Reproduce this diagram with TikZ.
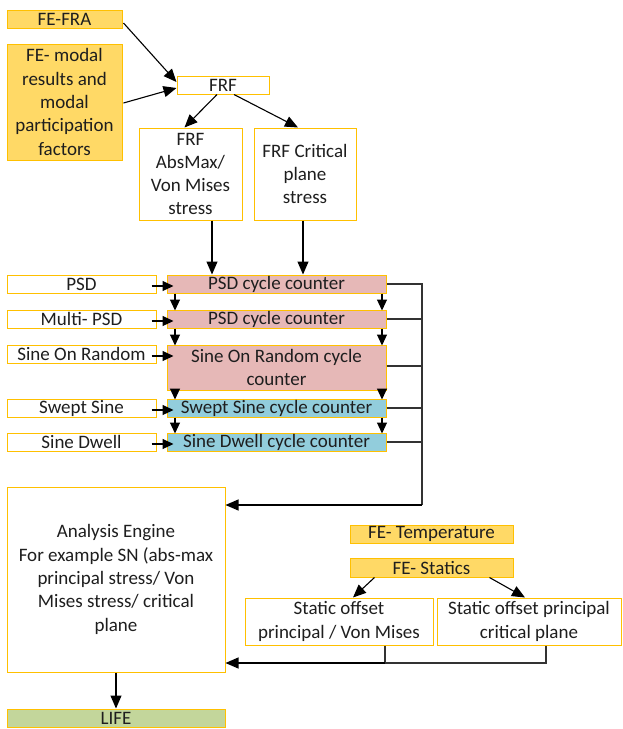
\documentclass[tikz,border=0pt]{standalone}
\usepackage{fontspec}
\setmainfont{Carlito}
\usetikzlibrary{arrows.meta,calc}
\definecolor{gold}{HTML}{FFC000}
\definecolor{lgold}{HTML}{FFD966}
\definecolor{pinkc}{HTML}{E6B8B7}
\definecolor{bluec}{HTML}{92CDDC}
\definecolor{greenc}{HTML}{C3D69B}
\definecolor{txt}{HTML}{1E1E1E}
\tikzset{
  bx/.style={draw=gold, line width=1pt, fill=white, inner sep=0pt, align=center, text=txt,
    font=\fontsize{19}{23.3}\selectfont},
  orange/.style={bx, fill=lgold},
  pinkbox/.style={bx, fill=pinkc},
  bluebox/.style={bx, fill=bluec},
  greenbox/.style={bx, fill=greenc},
  arr/.style={draw=black, line width=1.1pt, -{Triangle[length=13pt,width=11pt]}},
  sarr/.style={draw=black, line width=1.1pt, -{Triangle[length=11pt,width=10pt]}},
  ln/.style={draw=black!80, line width=1.1pt},
  sz/.style n args={2}{minimum width=#1pt, minimum height=#2pt},
}
\begin{document}
\begin{tikzpicture}[x=1pt,y=-1pt]
\useasboundingbox (0,0) rectangle (622,729);
% top
\node[orange, sz={115}{18}] (fra) at (64.5,19) {FE-FRA};
\node[orange, sz={115}{116}] (modal) at (64.5,102) {FE- modal\\results and\\modal\\participation\\factors};
\node[bx, sz={92}{18}] (frf) at (223,85) {FRF};
\node[bx, sz={103}{92}] (absmax) at (190.5,174) {FRF\\AbsMax/\\Von Mises\\stress};
\node[bx, sz={102}{92}] (crit) at (305,174) {FRF Critical\\plane\\stress};
% inputs
\node[bx, sz={149}{18}] (psd) at (81.5,284) {PSD};
\node[bx, sz={149}{18}] (mpsd) at (81.5,319) {Multi- PSD};
\node[bx, sz={149}{18}] (sor) at (81.5,354) {Sine On Random};
\node[bx, sz={149}{18}] (swept) at (81.5,408) {Swept Sine};
\node[bx, sz={149}{18}] (dwell) at (81.5,442) {Sine Dwell};
% counters
\node[pinkbox, sz={219}{18}] (psdc) at (276.5,284) {PSD cycle counter};
\node[pinkbox, sz={219}{18}] (mpsdc) at (276.5,319) {PSD cycle counter};
\node[pinkbox, sz={219}{45}] (sorc) at (276.5,367.5) {Sine On Random cycle\\counter};
\node[bluebox, sz={219}{18}] (sweptc) at (276.5,408) {Swept Sine cycle counter};
\node[bluebox, sz={219}{18}] (dwellc) at (276.5,442) {Sine Dwell cycle counter};
% engine
\node[bx, sz={218}{185}] (engine) at (116,579.5) {Analysis Engine\\For example SN (abs-max\\principal stress/ Von\\Mises stress/ critical\\plane};
\node[greenbox, sz={218}{18}] (life) at (116,718) {LIFE};
% statics
\node[orange, sz={163}{18}] (temp) at (431.5,534) {FE- Temperature};
\node[orange, sz={163}{19}] (statics) at (431.5,567.5) {FE- Statics};
\node[bx, sz={188}{47}] (sop) at (339,621.5) {Static offset\\principal / Von Mises};
\node[bx, sz={184}{47}] (sopc) at (529,621.5) {Static offset principal\\critical plane};
% coordinates
\coordinate (bus) at (422,505);
\coordinate (sbus) at (385,663);

% top arrows
\draw[arr] ($(fra.east)+(1,4)$) -- ($(frf.west)+(0,-3)$);
\draw[arr] ($(modal.east)+(1,1)$) -- ($(frf.west)+(0,3)$);
\draw[arr] ($(frf.south)+(-6,0)$) -- ($(absmax.north)+(-6,0)$);
\draw[arr] ($(frf.south)+(11,0)$) -- ($(crit.north)+(-7,0)$);
\draw[arr] (absmax.south -| 212,0) -- (psdc.north -| 212,0);
\draw[arr] (crit.south -| 303,0) -- (psdc.north -| 303,0);
% input arrows
\foreach \a/\b in {psd/psdc, mpsd/mpsdc, sor/sorc, swept/sweptc, dwell/dwellc}{
  \draw[sarr] ($(\a.east)+(-5,2)$) -- ($(\b.west |- \a.east)+(7,2)$);
}
% vertical arrows between counters
\foreach \a/\b in {psdc/mpsdc, mpsdc/sorc, sorc/sweptc, sweptc/dwellc}{
  \draw[sarr] (\a.south -| 175,0) -- ($(\b.north -| 175,0)+(0,1)$);
  \draw[sarr] (\a.south -| 382,0) -- ($(\b.north -| 382,0)+(0,1)$);
}
% bus
\draw[ln] (psdc.east) -- (psdc.east -| bus) -- (bus);
\foreach \a in {mpsdc, sweptc, dwellc}{
  \draw[ln] (\a.east) -- (\a.east -| bus);
}
\draw[ln] ($(sorc.east)+(0,-1.5)$) -- ($(sorc.east -| bus)+(0,-1.5)$);
\draw[arr] (bus) -- (bus -| engine.east);
% statics
\draw[arr] ($(statics.south)+(-57,0)$) -- ($(sop.north)+(14,0)$);
\draw[arr] ($(statics.south)+(58,0)$) -- ($(sopc.north)+(-4,0)$);
\draw[ln] (sop.south -| sbus) -- (sbus);
\draw[ln] (sopc.south -| 546,0) -- (546,663) -- (sbus);
\draw[arr] (sbus) -- (sbus -| engine.east);
\draw[arr] (engine.south) -- (life.north);
\end{tikzpicture}
\end{document}
